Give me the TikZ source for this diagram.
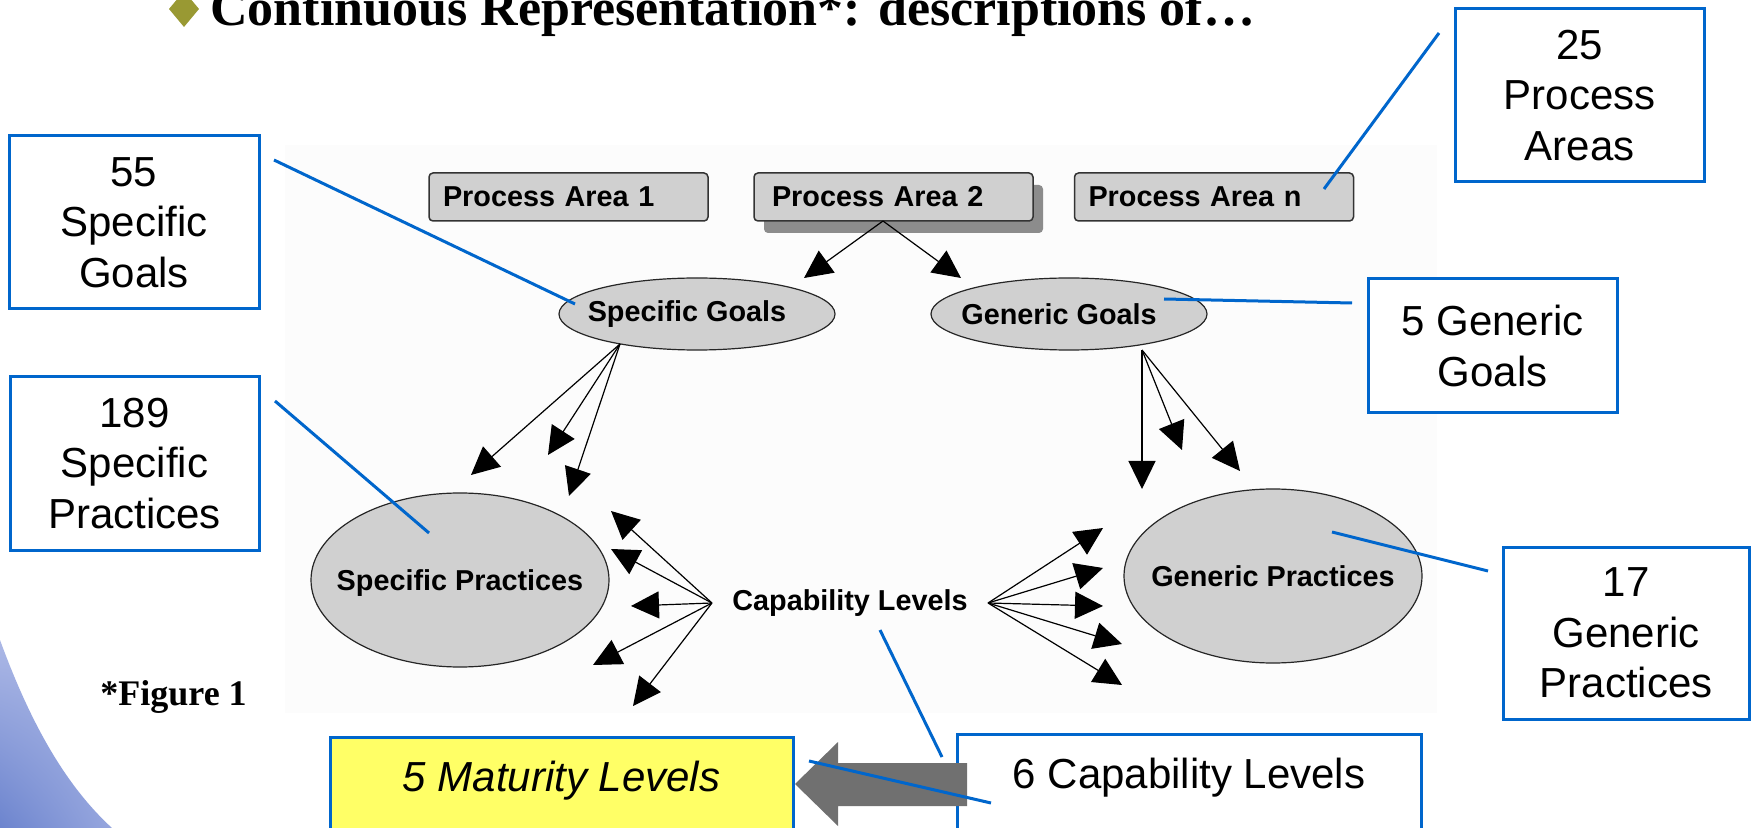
\documentclass[tikz,border=0pt]{standalone}
\usepackage{fontspec}
\setmainfont{Liberation Sans}
\newfontfamily\serifb{Liberation Serif}
\usetikzlibrary{arrows.meta,shapes.geometric,calc,shadows,shadings}
\definecolor{callblue}{RGB}{0,102,204}
\definecolor{figgray}{RGB}{208,208,208}
\definecolor{figbg}{RGB}{252,252,252}
\definecolor{shadowgray}{RGB}{140,140,140}
\definecolor{arrgray}{RGB}{112,112,112}
\definecolor{matyellow}{RGB}{255,255,102}
\definecolor{olivediam}{RGB}{153,153,51}
\definecolor{gradA}{RGB}{108,132,206}
\definecolor{gradB}{RGB}{150,166,222}
\definecolor{gradC}{RGB}{172,184,230}
\begin{document}
\begin{tikzpicture}[x=0.5pt,y=-0.5pt,
  callbox/.style={draw=callblue, line width=1.5pt, fill=white, align=center, inner sep=0pt,
    font=\fontsize{21pt}{25.3pt}\selectfont},
  callline/.style={draw=callblue, line width=1.5pt},
  figlabel/.style={font=\fontsize{14.4pt}{16pt}\selectfont\bfseries},
  pabox/.style={rectangle, rounded corners=2pt, draw=black!80, line width=0.75pt, fill=figgray,
    minimum width=139.5pt, minimum height=24pt, inner xsep=7pt, text width=125.5pt, align=left, figlabel},
  ellnode/.style={ellipse, draw=black!85, line width=0.6pt, fill=figgray, inner sep=0pt},
  arr/.style={-{Triangle[length=14pt,width=13.5pt]}, line width=0.6pt, black}
]
\clip (0,0) rectangle (1751,828);
\fill[white] (0,0) rectangle (1751,828);
% faint figure background
\fill[figbg] (285,145) rectangle (1437,713);
% left decorative gradient
\shade[upper left=gradC, upper right=gradC, lower left=gradA, lower right=gradB]
  (0,640) .. controls (30,722) and (65,785) .. (112,828) -- (0,828) -- cycle;

% title
\fill[olivediam] (184,-9) -- (199,9) -- (184,27) -- (169,9) -- cycle;
\node[anchor=base west, inner sep=0pt, font=\serifb\bfseries\fontsize{26pt}{30pt}\selectfont] (title) at (210,26)
  {Continuous Representation*: descriptions of…};

% process areas
\node[pabox] (pa1) at (568.5,197) {Process Area 1};
\node[pabox, inner xsep=9pt, text width=121.5pt,
  drop shadow={shadow xshift=5pt, shadow yshift=-6pt, fill=shadowgray, opacity=1}] (pa2) at (893.5,197) {Process Area 2};
\node[pabox] (pan) at (1214,197) {Process Area n};

% goals
\node[ellnode, minimum width=138pt, minimum height=36pt,
  label={[figlabel, xshift=-5pt]center:Specific Goals}] (sg) at (697,314) {};
\node[ellnode, minimum width=138pt, minimum height=36pt,
  label={[figlabel, xshift=-5pt]center:Generic Goals}] (gg) at (1069,314) {};

% practices
\node[ellnode, minimum width=149pt, minimum height=87pt,
  label={[figlabel, yshift=-1.5pt]center:Specific Practices}] (sp) at (460,580) {};
\node[ellnode, minimum width=149pt, minimum height=87pt,
  label={[figlabel]center:Generic Practices}] (gp) at (1273,576) {};

% capability levels
\node[figlabel, inner xsep=10pt, inner ysep=2pt] (cl) at (850,603) {Capability Levels};

% connector ends
\coordinate (pao) at (883,221);
\coordinate (pat1) at (804,278);
\coordinate (pat2) at (961,278);
\coordinate (sgo) at (620,344);
\coordinate (sgt1) at (471,475);
\coordinate (sgt2) at (548,455);
\coordinate (sgt3) at (569,496);
\coordinate (ggo) at (1142,350);
\coordinate (ggt1) at (1142,489);
\coordinate (ggt2) at (1182,450);
\coordinate (ggt3) at (1240,471);
\coordinate (clt1) at (611,511);
\coordinate (clt2) at (611,549);
\coordinate (clt3) at (631,606);
\coordinate (clt4) at (593,665);
\coordinate (clt5) at (633,706);
\coordinate (crt1) at (1103,528);
\coordinate (crt2) at (1103,568);
\coordinate (crt3) at (1103,606);
\coordinate (crt4) at (1122,644);
\coordinate (crt5) at (1122,685);

\draw[arr] (pao) -- (pat1);
\draw[arr] (pao) -- (pat2);
\draw[arr] (sgo) -- (sgt1);
\draw[arr] (sgo) -- (sgt2);
\draw[arr] (sgo) -- (sgt3);
\draw[arr] (ggo) -- (ggt1);
\draw[arr] (ggo) -- (ggt2);
\draw[arr] (ggo) -- (ggt3);
\foreach \i in {1,...,5} {
  \draw[arr] (cl.west) -- (clt\i);
  \draw[arr] (cl.east) -- (crt\i);
}

% callout boxes
\node[callbox, minimum width=125pt, minimum height=86.5pt] (b55) at (134,222.5) {55\\Specific\\Goals};
\node[callbox, minimum width=124.5pt, minimum height=86.5pt] (b189) at (134.5,463.5) {189\\Specific\\Practices};
\node[callbox, minimum width=124.5pt, minimum height=86.5pt] (b25) at (1579.5,95.5) {25\\Process\\Areas};
\node[callbox, minimum width=124.5pt, minimum height=67pt] (b5g) at (1492.5,346) {5 Generic\\Goals};
\node[callbox, minimum width=123pt, minimum height=86pt] (b17) at (1626,633) {17\\Generic\\Practices};
\node[callbox, anchor=north, minimum width=232pt, text height=27pt, text depth=40pt] (cap6) at (1189,733) {6 Capability Levels};
\node[callbox, fill=matyellow, anchor=north, minimum width=231.5pt, text height=27pt, text depth=40pt,
  font=\fontsize{21pt}{25.3pt}\selectfont\itshape] (mat5) at (561.5,736) {5 Maturity Levels};

% big gray arrow from capability to maturity levels
\fill[arrgray] (795,784) -- (838,742) -- (838,763) -- (967,763) -- (967,806) -- (838,806) -- (838,826) -- cycle;

% callout lines
\coordinate (c55a) at (274,160);   \coordinate (c55b) at (575,304);
\coordinate (c189a) at (275,401);  \coordinate (c189b) at (429,533);
\coordinate (c25a) at (1439,33);   \coordinate (c25b) at (1324,189);
\coordinate (c5ga) at (1352,303);  \coordinate (c5gb) at (1164,299);
\coordinate (c17a) at (1488,571);  \coordinate (c17b) at (1332,532);
\coordinate (c6a) at (942,757);    \coordinate (c6b) at (880,630);
\coordinate (c6ma) at (991,803);   \coordinate (c6mb) at (809,761);
\draw[callline] (c55a) -- (c55b);
\draw[callline] (c189a) -- (c189b);
\draw[callline] (c25a) -- (c25b);
\draw[callline] (c5ga) -- (c5gb);
\draw[callline] (c17a) -- (c17b);
\draw[callline] (c6a) -- (c6b);
\draw[callline] (c6ma) -- (c6mb);

% figure note
\node[anchor=base west, inner sep=0pt, font=\serifb\bfseries\fontsize{18pt}{21pt}\selectfont] (fig1) at (100,705) {*Figure 1};
\end{tikzpicture}
\end{document}
